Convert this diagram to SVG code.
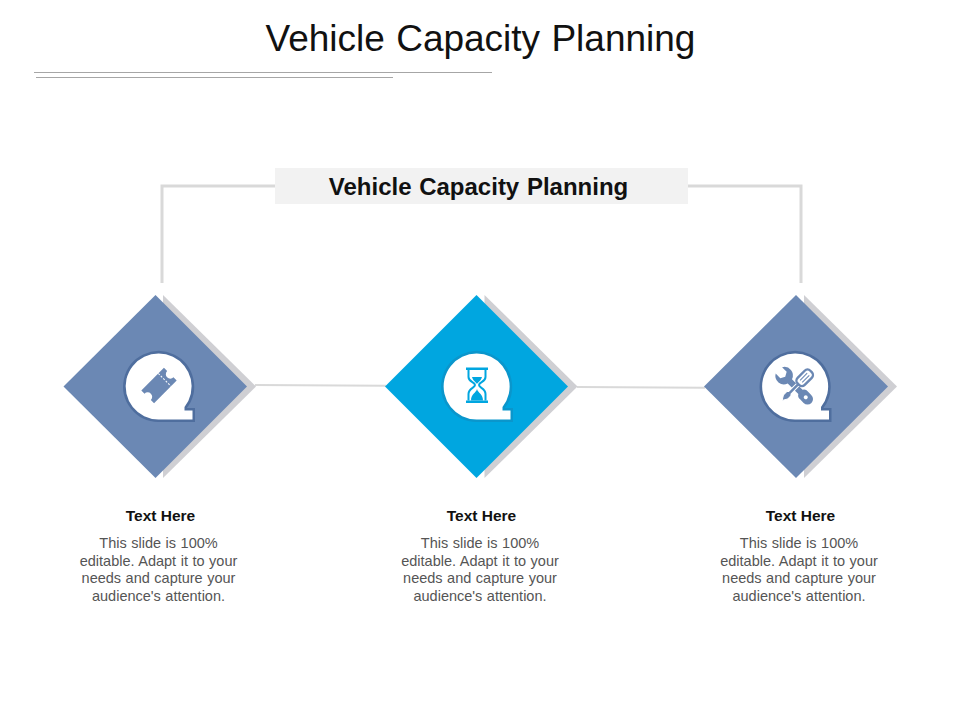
<svg xmlns="http://www.w3.org/2000/svg" width="960" height="720" viewBox="0 0 960 720">
<style>
text{font-family:"Liberation Sans",Arial,sans-serif;text-anchor:middle}
.title{font-size:37px;fill:#111;word-spacing:1px}
.sub{font-size:24px;font-weight:bold;fill:#111;word-spacing:1px}
.head{font-size:15.500px;font-weight:bold;fill:#111}
.body{font-size:14.500px;fill:#555;word-spacing:.5px}
.rule{stroke:#a6a6a6;stroke-width:1;fill:none}
.conn{stroke:#d9d9d9;stroke-width:3;fill:none}
.conn2{stroke:#d9d9d9;stroke-width:2;fill:none}
.shadow{fill:#cfcfd3}
.blue{fill:#6b88b4}
.cyan{fill:#00a6e0}
.bubble{fill:#fff;stroke-width:5;paint-order:stroke}
</style>
<defs>
<path id="bub" d="M26 20.500A33 33 0 1 0 0 33H34V24H26Z"/>
</defs>
<text class="title" x="480.500" y="51">Vehicle Capacity Planning</text>
<path class="rule" d="M34 72.500H492M36 77.500H393"/>
<g id="connectors">
<path class="conn" d="M275 186H162V283M688 186H801V283"/>
<path class="conn2" d="M255 385L386 385.800M577 387L705 387.800"/>
</g>
<g id="header">
<rect x="275" y="168" width="413" height="36" fill="#f2f2f2"/>
<text class="sub" x="478.500" y="195">Vehicle Capacity Planning</text>
</g>
<g id="node1">
<path class="shadow" d="M163 295L256 386.500L163 478Z"/>
<path class="blue" d="M155.500 295L247 386.500L155.500 478L63.500 386.500Z"/>
<use href="#bub" x="158.500" y="386.500" class="bubble" stroke="#4f6e9e"/>
<g class="blue" transform="translate(159,385.500) rotate(-45)">
<path d="M-16 -9H16V-4.500A4.500 4.500 0 0 0 16 4.500V9H-16V4.500A4.500 4.500 0 0 0 -16 -4.500Z"/>
<path d="M8 -9V9" stroke="#fff" stroke-width="1" stroke-dasharray="2 1.500" fill="none"/>
</g>
<text class="head" x="160.500" y="521">Text Here</text>
<text class="body" x="158.500" y="548">This slide is 100%</text>
<text class="body" x="158.500" y="566">editable. Adapt it to your</text>
<text class="body" x="158.500" y="583">needs and capture your</text>
<text class="body" x="158.500" y="601">audience's attention.</text>
</g>
<g id="node2">
<path class="shadow" d="M484.500 295L577.500 386.500L484.500 478Z"/>
<path class="cyan" d="M476.500 295L568 386.500L476.500 478L385 386.500Z"/>
<use href="#bub" x="476.500" y="386.500" class="bubble" stroke="#0a96cc"/>
<g transform="translate(477,385)">
<path d="M-11 -17.500H11V-15H-11ZM-11 15.500H11V18H-11Z" fill="#00a6e0"/>
<path d="M-8.500 -15V-8C-8.500 -3 -2 -3 -2 0C-2 3 -8.500 3 -8.500 9V15.500M8.500 -15V-8C8.500 -3 2 -3 2 0C2 3 8.500 3 8.500 9V15.500" fill="none" stroke="#00a6e0" stroke-width="2"/>
<path d="M-6 15.500C-6 9 -1 8 0 4C1 8 6 9 6 15.500Z M-5 -8H5C4 -4 1 -3 0 -1C-1 -3 -4 -4 -5 -8Z" fill="#00a6e0"/>
</g>
<text class="head" x="481.500" y="521">Text Here</text>
<text class="body" x="480" y="548">This slide is 100%</text>
<text class="body" x="480" y="566">editable. Adapt it to your</text>
<text class="body" x="480" y="583">needs and capture your</text>
<text class="body" x="480" y="601">audience's attention.</text>
</g>
<g id="node3">
<path class="shadow" d="M804 295L897 386.500L804 478Z"/>
<path class="blue" d="M796 295L888 386.500L796 478L704 386.500Z"/>
<use href="#bub" x="795" y="386.500" class="bubble" stroke="#4f6e9e"/>
<g transform="translate(795.500,387)">
<path class="blue" transform="rotate(-45)" fill-rule="evenodd" d="M-3 -8A8.500 8.500 0 0 1 -4.500 -23.500V-17L0 -14.500L4.500 -17V-23.500A8.500 8.500 0 0 1 3 -8V7A5 5 0 0 1 5.500 12V17A5.500 5.500 0 0 1 -5.500 17V12A5 5 0 0 1 -3 7ZM-2 14.500A2 2 0 0 0 2 14.500A2 2 0 0 0 -2 14.500Z"/>
<g transform="rotate(45)">
<path d="M-1.700 -5H1.700V8L3 9.500V14L0 19L-3 14V9.500L-1.700 8Z" class="blue" stroke="#fff" stroke-width="1"/>
<rect x="-5" y="-22" width="10" height="18" rx="4" fill="#fff" stroke="#6b88b4" stroke-width="2.400"/>
<path d="M-1.500 -18V-8M1.500 -18V-8" stroke="#6b88b4" stroke-width="1" fill="none"/>
</g>
</g>
<text class="head" x="800.500" y="521">Text Here</text>
<text class="body" x="799" y="548">This slide is 100%</text>
<text class="body" x="799" y="566">editable. Adapt it to your</text>
<text class="body" x="799" y="583">needs and capture your</text>
<text class="body" x="799" y="601">audience's attention.</text>
</g>
</svg>
